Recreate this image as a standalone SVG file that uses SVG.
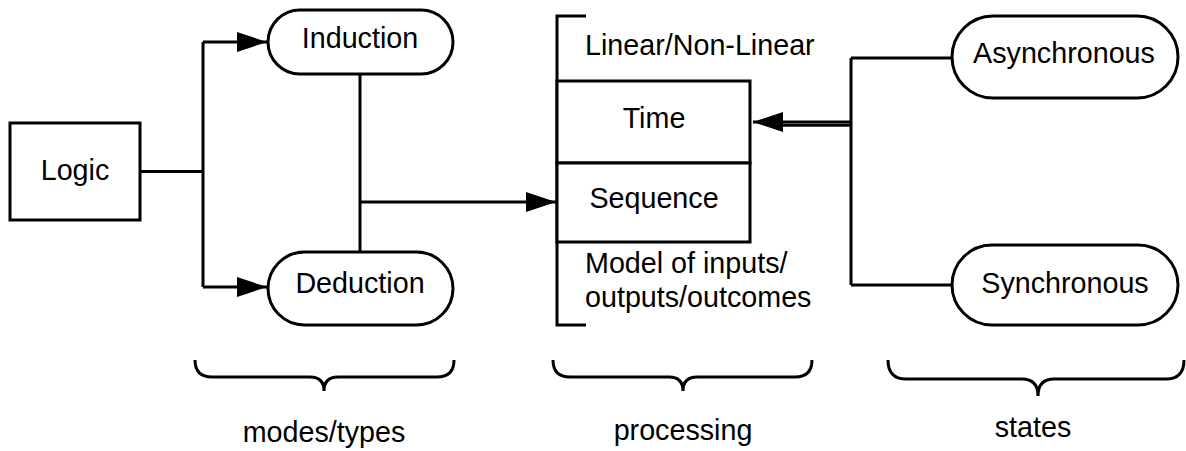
<svg xmlns="http://www.w3.org/2000/svg" width="1186" height="451" viewBox="0 0 1186 451">
<style>
.s{fill:#fff;stroke:#000;stroke-width:3}
.l{fill:none;stroke:#000;stroke-width:3}
.t{font-family:"Liberation Sans",Arial,sans-serif;font-size:28.7px;fill:#000}
.c{text-anchor:middle}
</style>
<defs>
<marker id="ah" markerUnits="userSpaceOnUse" markerWidth="32" markerHeight="22" refX="30" refY="10" orient="auto">
<path d="M0,0 L30,10 L0,20 Z" fill="#000"/>
</marker>
</defs>
<rect width="1186" height="451" fill="#fff"/>
<g id="connectors">
<path class="l" d="M140,171.5 H203 M203,42 V287"/>
<path class="l" d="M203,42 H267" marker-end="url(#ah)"/>
<path class="l" d="M203,287 H267" marker-end="url(#ah)"/>
<path class="l" d="M360,74 V252 M360,202 H556" marker-end="url(#ah)"/>
<path class="l" d="M851,58 V285 M851,58 H952 M851,285 H952"/>
<path class="l" d="M851,122 H753" marker-end="url(#ah)"/>
<path class="l" d="M851,125.2 H780"/>
</g>
<g id="logic"><rect class="s" x="10" y="123" width="130" height="97"/><text class="t c" x="75" y="180">Logic</text></g>
<g id="induction"><rect class="s" x="268" y="10" width="185" height="64" rx="32"/><text class="t c" x="360" y="48">Induction</text></g>
<g id="deduction"><rect class="s" x="268" y="252" width="185" height="73" rx="36.5"/><text class="t c" x="360" y="293">Deduction</text></g>
<g id="processing">
<path class="l" d="M586,16 H557 V325 H586"/>
<text class="t" x="585" y="55">Linear/Non-Linear</text>
<text class="t" x="585" y="273">Model of inputs/</text>
<text class="t" x="585" y="307">outputs/outcomes</text>
</g>
<g id="time"><rect class="s" x="557" y="81" width="193" height="82"/><text class="t c" x="654" y="128">Time</text></g>
<g id="sequence"><rect class="s" x="557" y="163" width="193" height="79"/><text class="t c" x="654" y="208">Sequence</text></g>
<g id="asynchronous"><rect class="s" x="952" y="16" width="226" height="82" rx="41"/><text class="t c" x="1064" y="63">Asynchronous</text></g>
<g id="synchronous"><rect class="s" x="952" y="245" width="226" height="80" rx="40"/><text class="t c" x="1065" y="293">Synchronous</text></g>
<g id="brace-modes">
<path class="l" d="M195,360 Q195,377 212,377 H310 Q324,377 324,391 Q324,377 338,377 H437 Q454,377 454,360"/>
<text class="t c" x="324" y="442">modes/types</text>
</g>
<g id="brace-processing">
<path class="l" d="M553,360 Q553,377 570,377 H669 Q683,377 683,391 Q683,377 697,377 H795 Q812,377 812,360"/>
<text class="t c" x="683" y="440">processing</text>
</g>
<g id="brace-states">
<path class="l" d="M888,360 Q888,379 906,379 H1022 Q1038,379 1038,396 Q1038,379 1054,379 H1166 Q1184,379 1184,360"/>
<text class="t c" x="1033" y="437">states</text>
</g>
</svg>
